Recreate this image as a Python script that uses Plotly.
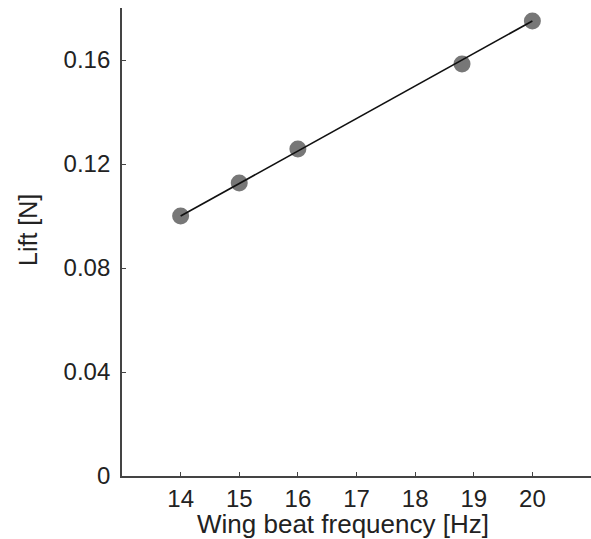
import plotly.graph_objects as go

freq = [14, 15, 16, 18.8, 20]
lift = [0.100, 0.1127, 0.1258, 0.1585, 0.175]
fit_x = [14, 20]
fit_y = [0.1, 0.175]

x_ticks = [14, 15, 16, 17, 18, 19, 20]
y_ticks = [0, 0.04, 0.08, 0.12, 0.16]
y_tick_text = ["0", "0.04", "0.08", "0.12", "0.16"]
x_title = "Wing beat frequency [Hz]"
y_title = "Lift [N]"

fig = go.Figure()
fig.add_trace(go.Scatter(x=freq, y=lift, mode="markers",
                         marker=dict(size=17, color="#777777", line=dict(width=0)),
                         showlegend=False, cliponaxis=False))
fig.add_trace(go.Scatter(x=fit_x, y=fit_y, mode="lines",
                         line=dict(color="#111111", width=1.6),
                         showlegend=False, cliponaxis=False))

W, H = 591, 539
ml, mr, mt, mb = 122, 0, 8, 63
pw, ph = W - ml - mr, H - mt - mb

font = dict(family="Liberation Sans, Arial, sans-serif", size=24, color="#222222")
fig.update_layout(
    width=W, height=H,
    margin=dict(l=ml, r=mr, t=mt, b=mb, autoexpand=False),
    plot_bgcolor="white", paper_bgcolor="white",
    font=font,
    xaxis=dict(range=[13, 21], tickvals=x_ticks, ticks="inside", ticklen=4,
               tickcolor="#444444", showline=True, linecolor="#444444", linewidth=1.8,
               showgrid=False, zeroline=False, automargin=False,
               tickfont=dict(size=24), ticklabelstandoff=0),
    yaxis=dict(range=[0, 0.18], tickvals=y_ticks, ticktext=y_tick_text, ticks="inside",
               ticklen=4, tickcolor="#444444", showline=True, linecolor="#444444",
               linewidth=1.8, showgrid=False, zeroline=False, automargin=False,
               tickfont=dict(size=24), ticklabelstandoff=5),
    annotations=[
        dict(text=x_title, xref="paper", yref="paper",
             x=(343 - ml) / pw, y=-mb / ph, xanchor="center", yanchor="bottom",
             yshift=-1, borderpad=0, showarrow=False, font=dict(size=26)),
        dict(text=y_title, xref="paper", yref="paper", textangle=-90,
             x=(28 - ml) / pw, y=(H - mb - 230) / ph, xanchor="center", yanchor="middle",
             showarrow=False, font=dict(size=25)),
    ],
)
fig.write_html("out.html")
